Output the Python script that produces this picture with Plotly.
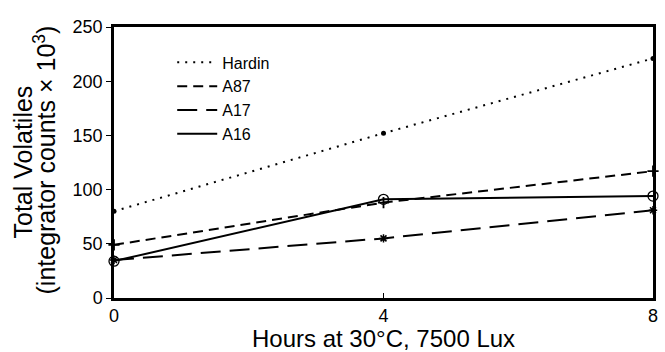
import plotly.graph_objects as go

hours = [0, 4, 8]
hardin = [80, 152, 221]
a87 = [49, 88, 117]
a17 = [35, 55, 81]
a16 = [34, 91, 94]

series_names = ["Hardin", "A87", "A17", "A16"]
series_vals = [hardin, a87, a17, a16]
dashes = ["2px,6px", "10px,6px", "20px,9px", "solid"]
markers = [
    dict(symbol="circle", size=5, color="black"),
    dict(symbol="cross-thin", size=8, color="black", line=dict(width=1.8, color="black")),
    dict(symbol="asterisk", size=7, color="black", line=dict(width=1.5, color="black")),
    dict(symbol="circle-open", size=10, color="black", line=dict(width=1.3, color="black")),
]

x_ticks = [0, 4, 8]
y_ticks = [0, 50, 100, 150, 200, 250]
x_title = "Hours at 30°C, 7500 Lux"
y_title_1 = "Total Volatiles"
y_title_2 = "(integrator counts × 10<sup>3</sup>)"

fig = go.Figure()
for name, vals, dash, mk in zip(series_names, series_vals, dashes, markers):
    fig.add_trace(go.Scatter(x=hours, y=vals, mode="lines", name=name,
                             line=dict(color="black", width=2, dash=dash)))
    fig.add_trace(go.Scatter(x=hours, y=vals, mode="markers", marker=mk,
                             showlegend=False, cliponaxis=False))

font = "Liberation Sans, Arial, Helvetica, sans-serif"
fig.update_layout(
    width=665, height=352,
    margin=dict(l=114, r=7, t=27, b=54),
    paper_bgcolor="white", plot_bgcolor="white",
    font=dict(family=font, color="black", size=14),
    legend=dict(x=0.108, y=0.932, xanchor="left", yanchor="top",
                bgcolor="rgba(0,0,0,0)", font=dict(size=16),
                tracegroupgap=0, itemwidth=40),
    showlegend=True,
    annotations=[
        dict(text=x_title, xref="paper", yref="paper", x=0.5, y=0, yshift=-40,
             showarrow=False, xanchor="center", yanchor="middle", font=dict(size=24)),
        dict(text=y_title_1, xref="paper", yref="paper", x=0, y=0.5, xshift=-92,
             showarrow=False, xanchor="center", yanchor="middle", textangle=-90,
             font=dict(size=25)),
        dict(text=y_title_2, xref="paper", yref="paper", x=0, y=0.5, xshift=-70,
             yshift=2, showarrow=False, xanchor="center", yanchor="middle",
             textangle=-90, font=dict(size=25)),
    ],
)
fig.update_xaxes(range=[0, 8], tickvals=x_ticks, ticktext=[str(v) for v in x_ticks],
                 showgrid=False, zeroline=False, showline=True, mirror=True,
                 linecolor="black", linewidth=2.5, ticks="inside", ticklen=5,
                 tickcolor="black", tickfont=dict(size=18))
fig.update_yaxes(range=[0, 250], tickvals=y_ticks, ticktext=[str(v) for v in y_ticks],
                 showgrid=False, zeroline=False, showline=True, mirror=True,
                 linecolor="black", linewidth=2.5, ticks="outside", ticklen=5,
                 tickcolor="black", tickfont=dict(size=18))

fig.write_html("out.html")
